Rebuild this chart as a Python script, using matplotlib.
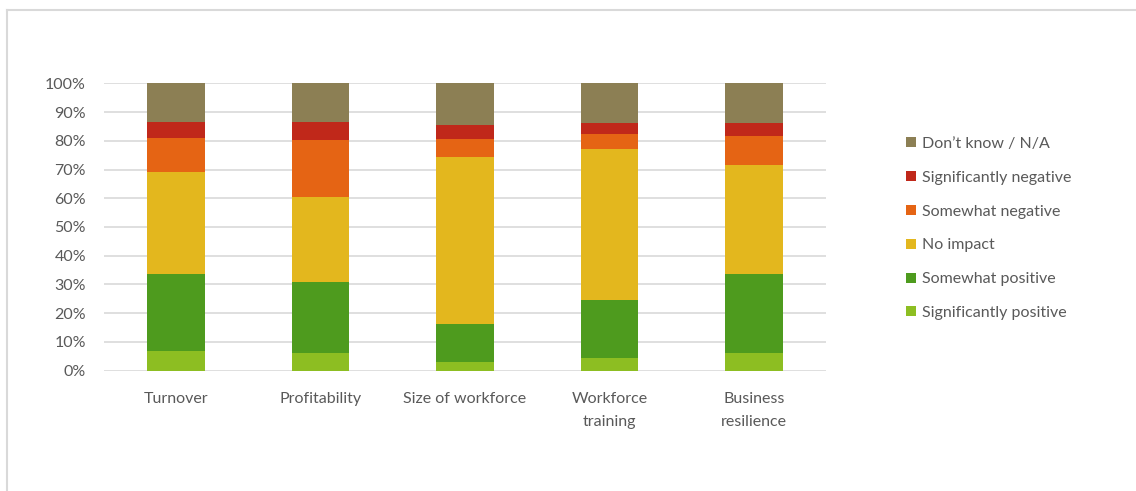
import numpy as np
import matplotlib
matplotlib.use("Agg")
import matplotlib.pyplot as plt
from matplotlib.lines import Line2D
from matplotlib.ticker import PercentFormatter

plt.rcParams["font.family"] = ["Lato", "DejaVu Sans"]

categories = ["Turnover", "Profitability", "Size of workforce",
              "Workforce\ntraining", "Business\nresilience"]
series = ["Significantly positive", "Somewhat positive", "No impact",
          "Somewhat negative", "Significantly negative", "Don’t know / N/A"]

sig_pos = [6.8, 6.3, 2.9, 4.3, 6.3]
some_pos = [26.7, 24.5, 13.3, 20.2, 27.3]
no_impact = [35.7, 29.7, 58.0, 52.7, 38.1]
some_neg = [11.8, 19.6, 6.3, 5.0, 10.0]
sig_neg = [5.6, 6.6, 5.0, 3.9, 4.5]
dont_know = [13.4, 13.3, 14.5, 13.9, 13.8]

colors = ["#8DBE22", "#4E9B1E", "#E3B71E", "#E56414", "#C0281A", "#8C7F54"]
TXT = "#595959"
FS = 11.5

W, H = 1136, 491
fig = plt.figure(figsize=(W / 100, H / 100), dpi=100)
ax = fig.add_axes([104 / W, 1 - 370.7 / H, 722 / W, 287.4 / H])

x = np.arange(len(categories))
bottom = np.zeros(len(categories))
handles = []
for name, vals, col in zip(series, [sig_pos, some_pos, no_impact, some_neg, sig_neg, dont_know], colors):
    v = np.array(vals)
    h = ax.bar(x, v, width=0.4, bottom=bottom, color=col, label=name, zorder=3)
    handles.append(h)
    bottom += v

ax.set_xlim(-0.5, len(categories) - 0.5)
ax.set_ylim(0, 100)
ax.set_yticks(np.arange(0, 101, 10))
ax.yaxis.set_major_formatter(PercentFormatter(decimals=0))
ax.set_xticks(x)
ax.set_xticklabels(categories, linespacing=1.85)
ax.tick_params(axis="both", length=0, labelsize=FS, labelcolor=TXT)
ax.tick_params(axis="y", pad=13)
ax.tick_params(axis="x", pad=15)
ax.grid(axis="y", color="#D9D9D9", linewidth=1.2, zorder=0)
for s in ax.spines.values():
    s.set_visible(False)

leg = ax.legend(handles[::-1], series[::-1], loc="upper left",
                bbox_to_anchor=(898 / W, 1 - 129 / H), bbox_transform=fig.transFigure,
                frameon=False, fontsize=FS, labelcolor=TXT, borderpad=0,
                labelspacing=1.24, handlelength=0.6, handleheight=0.6,
                handletextpad=0.4)

# outer frame (top and left edges)
fig.add_artist(Line2D([7 / W, 1], [1 - 10 / H, 1 - 10 / H], color="#D9D9D9",
                      linewidth=1.5, transform=fig.transFigure))
fig.add_artist(Line2D([7 / W, 7 / W], [0, 1 - 10 / H], color="#D9D9D9",
                      linewidth=1.5, transform=fig.transFigure))

fig.savefig("out.png", dpi=100)
